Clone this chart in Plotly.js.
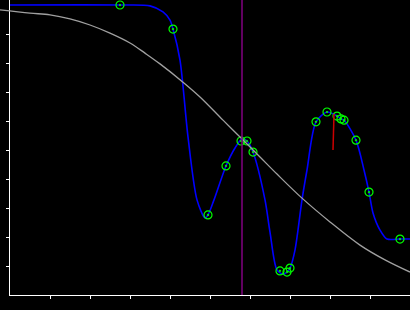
<!DOCTYPE html>
<html><head><meta charset="utf-8">
<script src="https://cdn.plot.ly/plotly-3.0.1.min.js"></script>
<style>html,body{margin:0;padding:0;background:#000}#chart{width:410px;height:310px}</style>
</head><body><div id="chart"></div>
<script>
// Green marker points
var markerX = [2.75, 4.075, 4.95, 5.4, 5.775, 5.925, 6.075, 6.75, 6.925, 7.0, 7.65, 7.925, 8.175, 8.275, 8.35, 8.65, 8.975, 9.75];
var markerY = [10.0, 9.17, 2.76, 4.45, 5.31, 5.31, 4.93, 0.83, 0.79, 0.93, 5.97, 6.31, 6.17, 6.07, 6.03, 5.34, 3.55, 1.93];
// Blue curve points
var curveX = [0, 2.75, 3.5, 3.825, 4.0, 4.075, 4.25, 4.45, 4.675, 4.875, 4.95, 5.1, 5.4, 5.625, 5.8, 5.925, 6.075, 6.375, 6.5, 6.675, 6.825, 6.925, 7.0, 7.125, 7.3, 7.425, 7.65, 7.925, 8.175, 8.275, 8.35, 8.65, 8.85, 8.975, 9.075, 9.25, 9.425, 9.75, 10];
var curveY = [10.0, 10.0, 9.97, 9.76, 9.48, 9.17, 8.10, 5.45, 3.28, 2.66, 2.76, 3.28, 4.45, 5.07, 5.38, 5.31, 4.93, 3.28, 2.17, 0.86, 0.72, 0.79, 0.93, 1.55, 3.28, 4.31, 5.97, 6.31, 6.17, 6.07, 6.03, 5.34, 4.31, 3.55, 2.83, 2.24, 1.93, 1.93, 1.93];
// Gray curve
var grayX = [-0.25, 0.5, 1.0, 1.5, 2.0, 2.5, 3.0, 3.375, 3.75, 4.325, 4.75, 5.325, 5.75, 6.25, 6.675, 7.3, 8.0, 8.75, 9.375, 10];
var grayY = [9.83, 9.72, 9.66, 9.52, 9.31, 9.03, 8.69, 8.34, 7.97, 7.34, 6.83, 6.03, 5.45, 4.76, 4.17, 3.34, 2.52, 1.72, 1.21, 0.79];
// Red segment
var redX = [8.1, 8.075];
var redY = [6.24, 5.0];
// Vertical purple line position
var vlineX = [5.8];
// Tick values
var xTicks = [1, 2, 3, 4, 5, 6, 7, 8, 9];
var yTicks = [1, 2, 3, 4, 5, 6, 7, 8, 9];

var traces = [
  {x: grayX, y: grayY, xaxis: 'x2', yaxis: 'y', mode: 'lines', type: 'scatter',
   line: {color: '#a0a0a0', width: 1.3, shape: 'spline'}, hoverinfo: 'skip'},
  {x: curveX, y: curveY, mode: 'lines', type: 'scatter',
   line: {color: '#0000ff', width: 1.6, shape: 'spline', smoothing: 0.8}, hoverinfo: 'skip'},
  {x: markerX, y: markerY, mode: 'markers', type: 'scatter',
   marker: {symbol: 'circle-open-dot', size: 8, color: '#00ff00', line: {color: '#00ff00', width: 1.2}}, hoverinfo: 'skip'},
  {x: redX, y: redY, mode: 'lines', type: 'scatter',
   line: {color: '#cc0000', width: 1.5}, hoverinfo: 'skip'}
];

var axCommon = {showgrid: false, zeroline: false, showticklabels: false, fixedrange: true};
var layout = {
  width: 410, height: 310,
  margin: {l: 0, r: 0, t: 0, b: 15, pad: 0},
  paper_bgcolor: '#000', plot_bgcolor: 'rgba(0,0,0,0)',
  showlegend: false,
  xaxis: Object.assign({}, axCommon, {domain: [10/410, 1], range: [0, 10], showline: true, linecolor: '#fff', linewidth: 1,
    ticks: 'outside', ticklen: 3, tickwidth: 1, tickcolor: '#fff', tickvals: xTicks, anchor: 'y'}),
  xaxis2: Object.assign({}, axCommon, {domain: [0, 1], range: [-0.25, 10], visible: false, anchor: 'y'}),
  yaxis: Object.assign({}, axCommon, {domain: [0, 1], range: [0, 295/29], showline: true, linecolor: '#fff', linewidth: 1,
    ticks: 'outside', ticklen: 3, tickwidth: 1, tickcolor: '#fff', tickvals: yTicks, anchor: 'x'}),
  shapes: [{type: 'line', xref: 'x', yref: 'paper', x0: vlineX[0], x1: vlineX[0], y0: 0, y1: 1,
    line: {color: '#800080', width: 1.5}, layer: 'above'}]
};
Plotly.newPlot('chart', traces, layout, {displayModeBar: false, staticPlot: true});
</script>
</body></html>
